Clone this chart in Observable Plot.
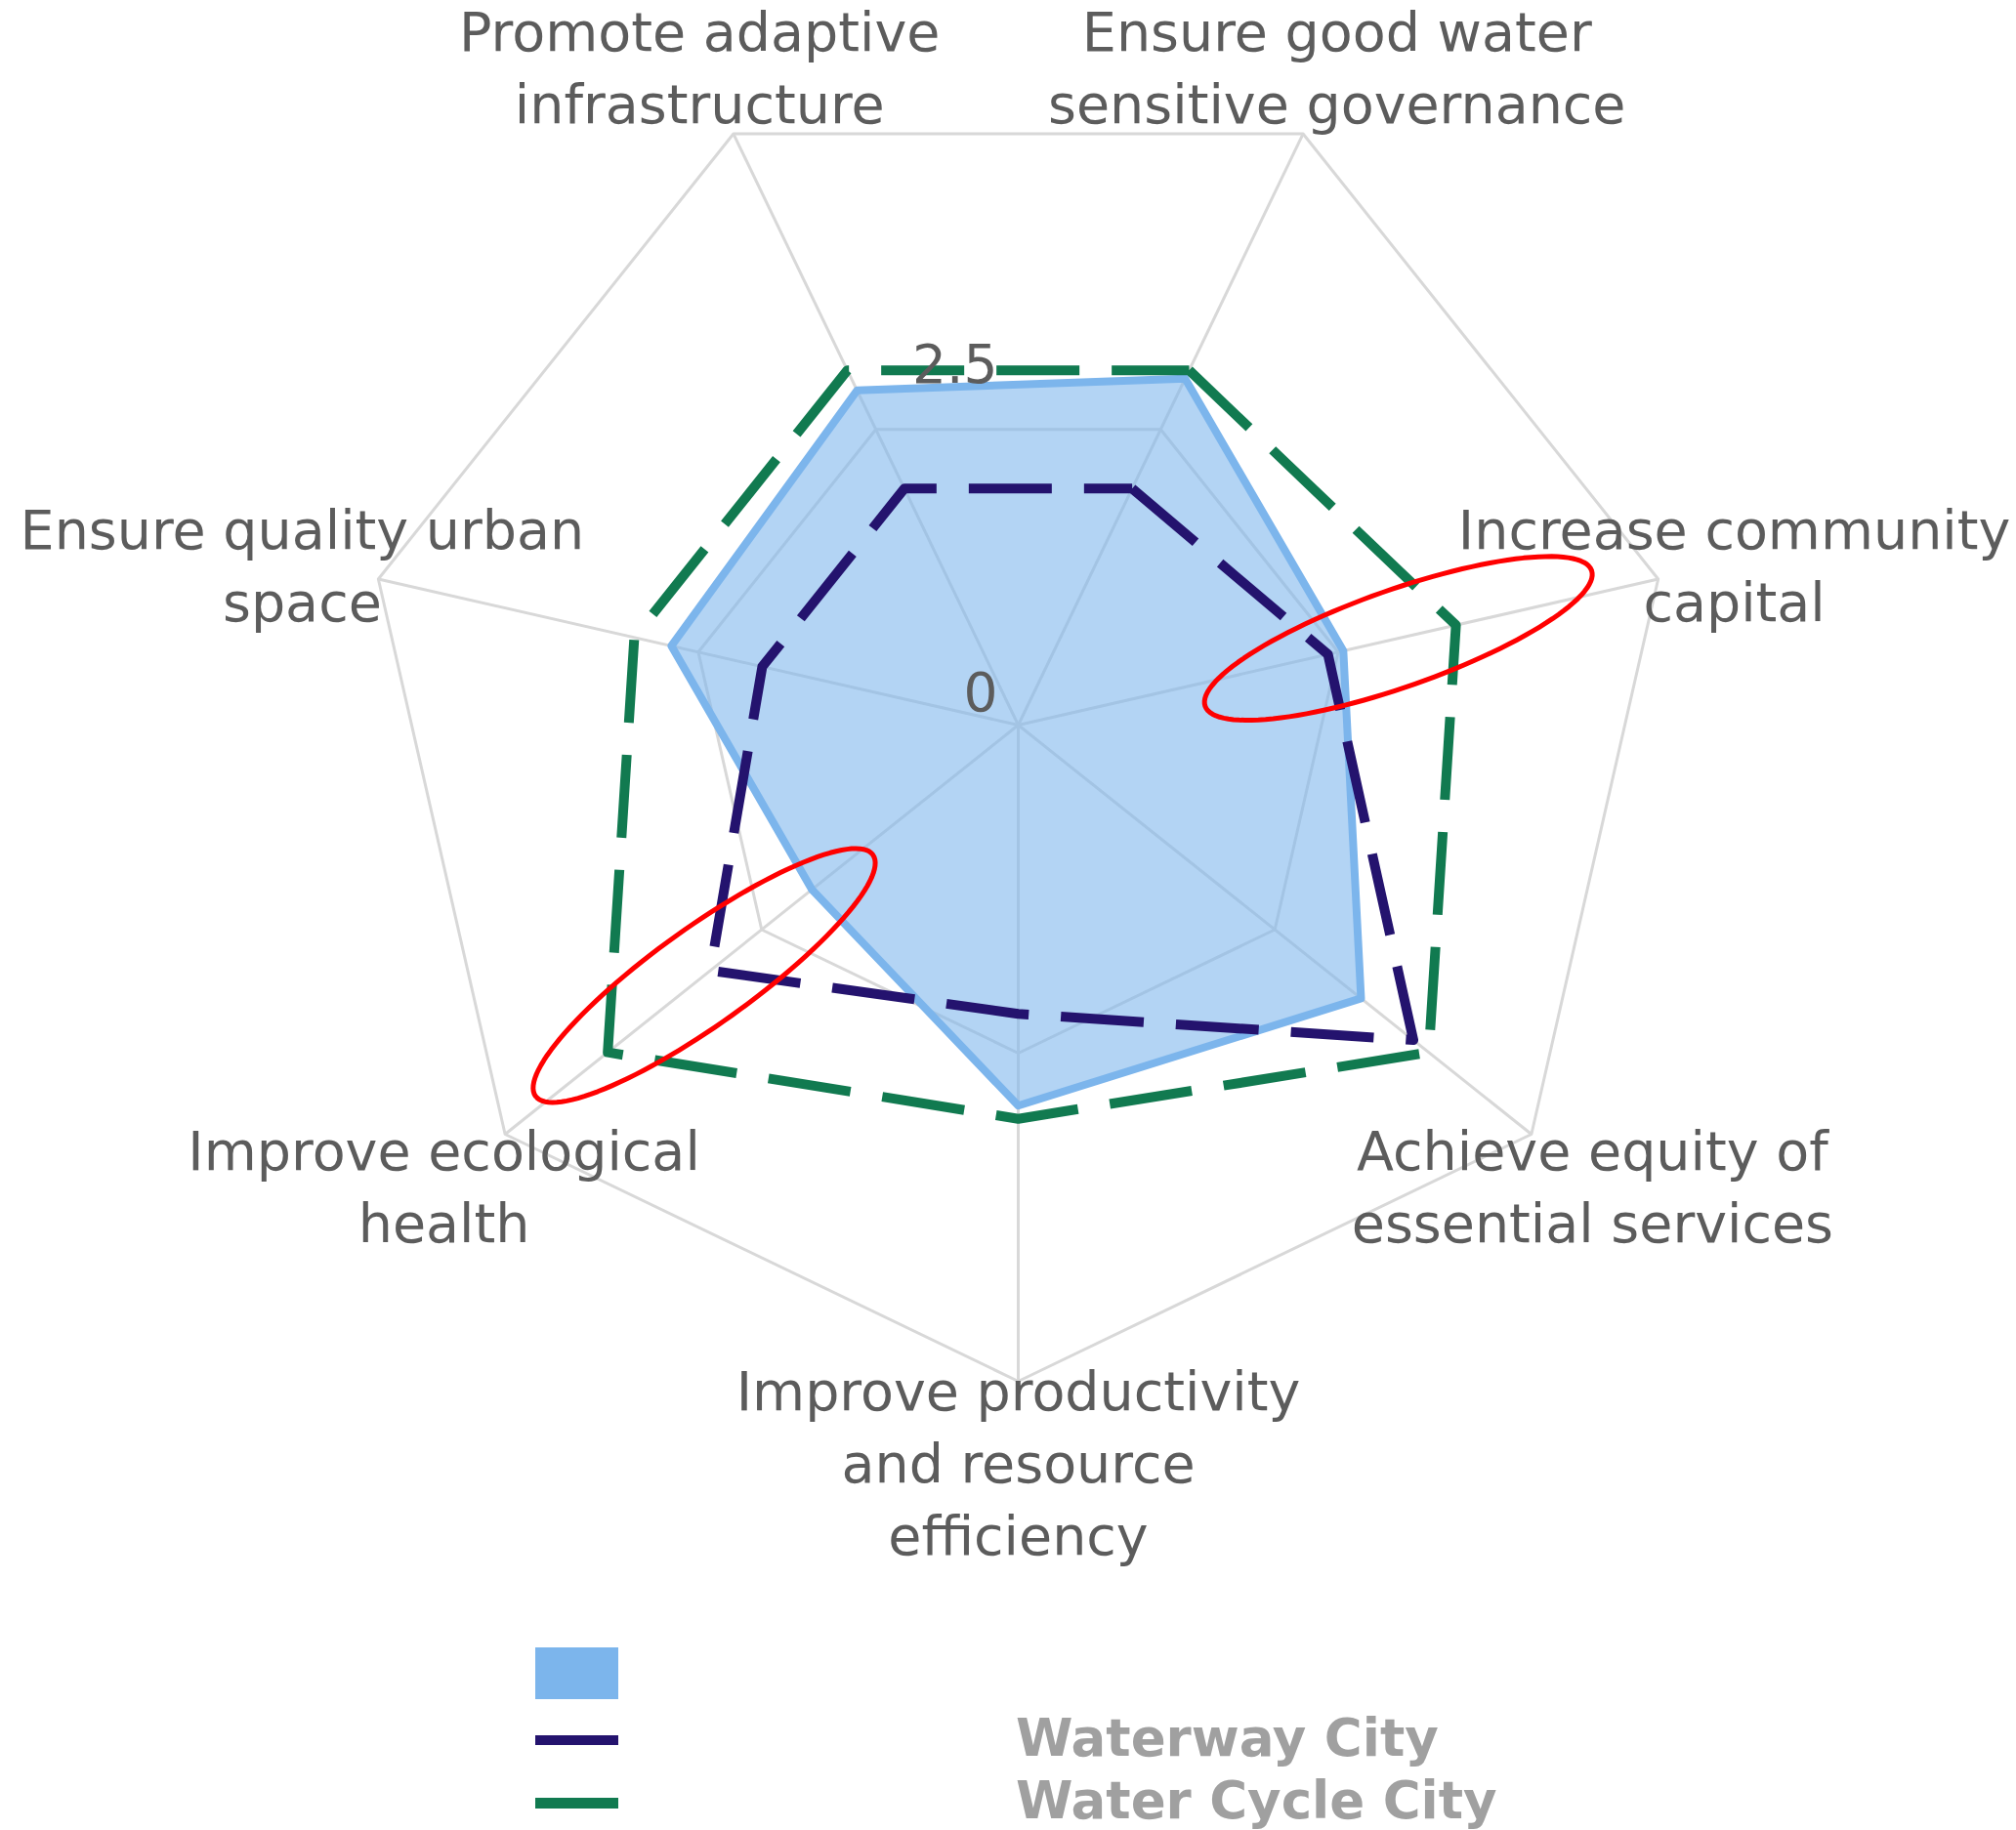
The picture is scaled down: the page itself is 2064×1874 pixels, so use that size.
<!DOCTYPE html>
<html>
<head>
<meta charset="utf-8">
<script src="https://cdn.jsdelivr.net/npm/d3@7"></script>
<script src="https://cdn.jsdelivr.net/npm/@observablehq/plot@0.6"></script>
<style>
  body { margin: 0; background: #fff; }
  #chart svg, #legend svg { display: block; }
</style>
</head>
<body>
<div id="chart"></div>
<div id="legend"></div>
<script>
// ---- data (clockwise from the first spoke right of top) ----
const categories = [
  "Ensure good water\nsensitive governance",
  "Increase community\ncapital",
  "Achieve equity of\nessential services",
  "Improve productivity\nand resource\nefficiency",
  "Improve ecological\nhealth",
  "Ensure quality urban\nspace",
  "Promote adaptive\ninfrastructure"
];
const seriesNames = ["", "Waterway City", "Water Cycle City"];
const currentValues    = [2.93, 2.54, 3.34, 2.90, 2.01, 2.71, 2.83];
const waterwayValues   = [2.00, 2.42, 3.85, 2.20, 3.00, 2.00, 2.00];
const waterCycleValues = [3.00, 3.42, 4.00, 3.00, 4.00, 3.00, 3.00];
const gridLevels = [2.5, 5];
const tickValues = [0, 2.5];
const tickLabels = ["0", "2.5"];
const maxValue = 5;
// red highlight ellipses (annotation): centred on a spoke, in value units
const highlightSpokes = [1, 4];
const highlightValues = [2.97, 3.06];
const highlightMajor = [1.56, 1.58];
const highlightMinor = [0.37, 0.37];
const highlightTilt = [6.5, -3];

// ---- geometry helpers ----
const n = categories.length;
const ang = i => (i + 0.5) * 2 * Math.PI / n;
const pt = (i, v) => ({x: v * Math.sin(ang(i)), y: v * Math.cos(ang(i))});
const closedRing = vals => [...vals.map((v, i) => pt(i, v)), pt(0, vals[0])];

const gridData = gridLevels.flatMap(l => closedRing(categories.map(() => l)).map(p => ({...p, level: l})));

const ellipseData = highlightSpokes.flatMap((s, k) => {
  const c = pt(s, highlightValues[k]);
  const base = Math.atan2(Math.cos(ang(s)), Math.sin(ang(s)));
  const phi = base + highlightTilt[k] * Math.PI / 180;
  const a = highlightMajor[k], b = highlightMinor[k];
  return d3.range(0, 361, 3).map(t => {
    const r = t * Math.PI / 180;
    return {
      id: k,
      x: c.x + a * Math.cos(r) * Math.cos(phi) - b * Math.sin(r) * Math.sin(phi),
      y: c.y + a * Math.cos(r) * Math.sin(phi) + b * Math.sin(r) * Math.cos(phi)
    };
  });
});

const labelR = maxValue + 0.595;
const font = "DejaVu Sans";
const textColor = "#5c5c5c";

const chart = Plot.plot({
  width: 2064,
  height: 1660,
  margin: 0,
  x: {domain: [-maxValue, maxValue], range: [370, 1714], axis: null},
  y: {domain: [-maxValue, maxValue], range: [1414, 70], axis: null},
  style: {fontFamily: font, background: "#fff"},
  marks: [
    Plot.line(gridData, {x: "x", y: "y", z: "level", stroke: "#d8d8d8", strokeWidth: 3}),
    Plot.link(categories, {
      x1: () => 0, y1: () => 0,
      x2: (d, i) => pt(i, maxValue).x, y2: (d, i) => pt(i, maxValue).y,
      stroke: "#d8d8d8", strokeWidth: 3
    }),
    Plot.line(closedRing(currentValues), {
      x: "x", y: "y", fill: "#7cb5ec", fillOpacity: 0.58,
      stroke: "#7cb5ec", strokeWidth: 8, strokeLinejoin: "round"
    }),
    Plot.line(closedRing(waterwayValues), {
      x: "x", y: "y", stroke: "#24136e", strokeWidth: 10,
      strokeDasharray: "85,33", strokeLinecap: "butt", strokeLinejoin: "round"
    }),
    Plot.line(closedRing(waterCycleValues), {
      x: "x", y: "y", stroke: "#117a50", strokeWidth: 10,
      strokeDasharray: "85,33", strokeLinecap: "butt", strokeLinejoin: "round"
    }),
    Plot.text(categories, {
      x: (d, i) => pt(i, labelR).x, y: (d, i) => pt(i, labelR).y,
      text: d => d, fontSize: 55.5, fill: textColor, fontFamily: font,
      textAnchor: "middle", lineAnchor: "middle", lineHeight: 1.33
    }),
    Plot.text(tickValues, {
      x: () => 0, y: d => d, text: (d, i) => tickLabels[i],
      textAnchor: "end", lineAnchor: "middle", dx: -21, dy: -32,
      fontSize: 55, fill: textColor, fontFamily: font
    }),
    Plot.line(ellipseData, {x: "x", y: "y", z: "id", stroke: "#ff0000", strokeWidth: 5, curve: "linear"})
  ]
});
document.getElementById("chart").append(chart);

// ---- legend (below the SVG) ----
const legendColors = ["#7cb5ec", "#24136e", "#117a50"];
const ns = "http://www.w3.org/2000/svg";
const leg = document.createElementNS(ns, "svg");
leg.setAttribute("width", 2064);
leg.setAttribute("height", 214);
const swatchTop = [27, 117, 181];
const swatchH = [53, 10, 11];
const textBase = [null, 138, 202];
seriesNames.forEach((name, i) => {
  const r = document.createElementNS(ns, "rect");
  r.setAttribute("x", 548); r.setAttribute("y", swatchTop[i]);
  r.setAttribute("width", 85); r.setAttribute("height", swatchH[i]);
  r.setAttribute("fill", legendColors[i]);
  leg.append(r);
  if (name) {
    const t = document.createElementNS(ns, "text");
    t.setAttribute("x", 1040); t.setAttribute("y", textBase[i]);
    t.setAttribute("font-family", font); t.setAttribute("font-weight", "bold");
    t.setAttribute("font-size", 53); t.setAttribute("fill", "#a0a0a0");
    t.textContent = name;
    leg.append(t);
  }
});
document.getElementById("legend").append(leg);
</script>
</body>
</html>
